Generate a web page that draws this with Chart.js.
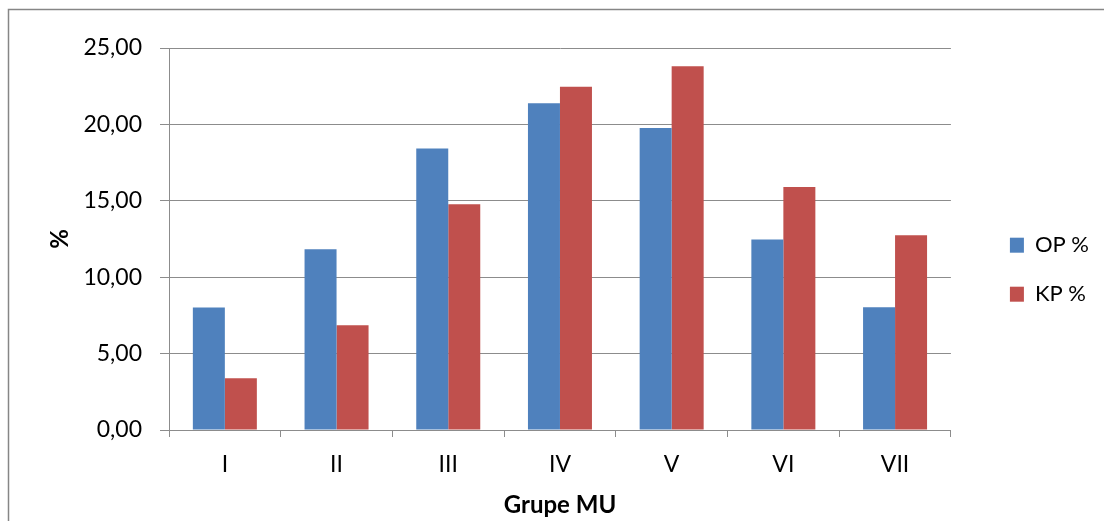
<!DOCTYPE html>
<html>
<head>
<meta charset="utf-8">
<script src="https://cdn.jsdelivr.net/npm/chart.js@4"></script>
<style>
  html, body { margin: 0; padding: 0; background: #fff; }
  #wrap { position: relative; width: 1104px; height: 521px; }
</style>
</head>
<body>
<div id="wrap"><canvas id="chart"></canvas></div>
<script>
// values
const categories = ['I', 'II', 'III', 'IV', 'V', 'VI', 'VII'];
const opValues = [8.02, 11.83, 18.42, 21.38, 19.76, 12.46, 8.03];
const kpValues = [3.38, 6.85, 14.77, 22.47, 23.80, 15.90, 12.74];
const seriesNames = ['OP %', 'KP %'];

const FONT = 'Lato, "Open Sans", sans-serif';
const GRID = '#8c8c8c';

// outer frame of the chart object (only left/top edges are in view)
const framePlugin = {
  id: 'frame',
  beforeDraw(chart) {
    const ctx = chart.ctx;
    ctx.save();
    ctx.fillStyle = '#fff';
    ctx.fillRect(0, 0, chart.width, chart.height);
    ctx.strokeStyle = '#868686';
    ctx.lineWidth = 1.5;
    ctx.strokeRect(8.5, 9.5, 2000, 2000);
    ctx.restore();
  }
};

const ctx = document.getElementById('chart');

new Chart(ctx, {
  type: 'bar',
  data: {
    labels: categories,
    datasets: [
      {
        label: seriesNames[0],
        data: opValues,
        backgroundColor: '#4f81bd',
        borderWidth: 0
      },
      {
        label: seriesNames[1],
        data: kpValues,
        backgroundColor: '#c0504d',
        borderWidth: 0
      }
    ]
  },
  options: {
    responsive: true,
    maintainAspectRatio: false,
    animation: false,
    datasets: {
      bar: { categoryPercentage: 0.573, barPercentage: 1 }
    },
    layout: {
      padding: { left: 0, top: 48, right: 5, bottom: 0 }
    },
    plugins: {
      tooltip: { enabled: false },
      legend: {
        position: 'right',
        align: 'center',
        fullSize: false,
        // empty title only pushes the entries down a bit
        title: { display: true, text: '', padding: { top: 47, bottom: 0 } },
        labels: {
          boxWidth: 14,
          boxHeight: 15,
          padding: 27,
          color: '#000',
          font: { family: FONT, size: 22 }
        }
      }
    },
    scales: {
      x: {
        grid: { drawOnChartArea: false, offset: true, tickLength: 7, color: GRID },
        border: { color: GRID, width: 1 },
        ticks: { color: '#000', padding: 14, font: { family: FONT, size: 23 } },
        title: {
          display: true,
          text: 'Grupe MU',
          color: '#000',
          padding: { top: 0, bottom: 1 },
          font: { family: FONT, size: 24, weight: 'bold' }
        },
        afterFit(scale) { scale.height = 91; }
      },
      y: {
        min: 0,
        max: 25,
        ticks: {
          stepSize: 5,
          color: '#000',
          padding: 18,
          font: { family: FONT, size: 23 },
          callback: (v) => v.toFixed(2).replace('.', ',')
        },
        grid: { color: GRID, tickLength: 9, lineWidth: 1 },
        border: { color: GRID, width: 1 },
        title: {
          display: true,
          text: '%',
          color: '#000',
          padding: { top: 46, bottom: 0 },
          font: { family: FONT, size: 24, weight: 'bold' }
        },
        afterFit(scale) { scale.width = 169; }
      },
      // empty axis, keeps a gap between the plot and the legend
      gap: {
        position: 'right',
        display: true,
        grid: { display: false },
        border: { display: false },
        ticks: { display: false },
        afterFit(scale) { scale.width = 32; }
      }
    }
  },
  plugins: [framePlugin]
});
</script>
</body>
</html>
